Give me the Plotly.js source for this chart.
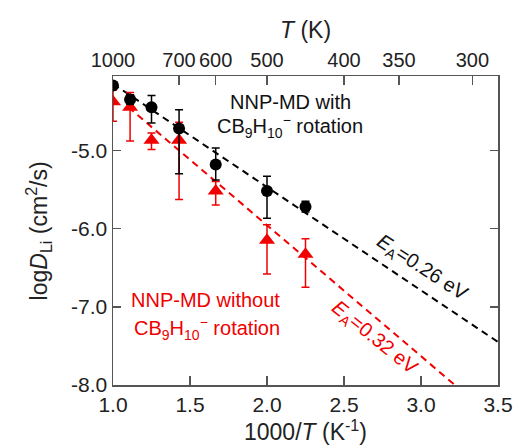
<!DOCTYPE html>
<html><head><meta charset="utf-8">
<script src="https://cdn.plot.ly/plotly-3.0.1.min.js"></script>
<style>body{margin:0;background:#fff}#chart{width:518px;height:446px}</style>
</head><body><div id="chart"></div>
<script>
// 1000/T (K^-1)
const xInv = [1.0, 1.111, 1.25, 1.429, 1.667, 2.0, 2.25];
// with CB9H10- rotation (black)
const yWith = [-4.17, -4.35, -4.45, -4.72, -5.18, -5.52, -5.72];
const errWithPlus = [0.04, 0.06, 0.15, 0.24, 0.21, 0.19, 0.07];
const errWithMinus = [0.04, 0.06, 0.20, 0.58, 0.20, 0.35, 0.07];
// without rotation (red)
const yWithout = [-4.38, -4.45, -4.87, -4.87, -5.52, -6.15, -6.33];
const errWithoutPlus = [0.15, 0.19, 0.09, 0.23, 0.12, 0.20, 0.20];
const errWithoutMinus = [0.25, 0.43, 0.12, 0.76, 0.18, 0.43, 0.42];
// Arrhenius fit lines
const fitWithX = [1.0, 3.5];
const fitWithY = [-4.15, -7.45];
const fitWithoutX = [1.1, 3.22];
const fitWithoutY = [-4.45, -8.0];
// top axis temperatures (K)
const topT = [1000, 700, 600, 500, 400, 350, 300];
const yTicks = [-8.0, -7.0, -6.0, -5.0];
const xTicks = [1.0, 1.5, 2.0, 2.5, 3.0, 3.5];

const RED = '#f00000';
const FONT = 'Liberation Sans, Arial, sans-serif';
const AX = '#555';

const traces = [
  {x: fitWithX, y: fitWithY, mode: 'lines', line: {color: '#000', width: 2, dash: '7px,5px'}, hoverinfo: 'skip'},
  {x: fitWithoutX, y: fitWithoutY, mode: 'lines', line: {color: RED, width: 2, dash: '7px,5px'}, hoverinfo: 'skip'},
  {x: xInv, y: yWithout, mode: 'markers', marker: {symbol: 'triangle-up', size: 14, color: RED},
   error_y: {type: 'data', symmetric: false, array: errWithoutPlus, arrayminus: errWithoutMinus, color: RED, thickness: 1.5, width: 4}},
  {x: xInv, y: yWith, mode: 'markers', marker: {symbol: 'circle', size: 12, color: '#000'},
   error_y: {type: 'data', symmetric: false, array: errWithPlus, arrayminus: errWithMinus, color: '#000', thickness: 1.5, width: 4}},
  {x: [1.0, 3.5], y: [-8, -8], xaxis: 'x2', mode: 'markers', marker: {opacity: 0}, hoverinfo: 'skip'}
];

const layout = {
  width: 518, height: 446,
  margin: {l: 113, r: 20, t: 76, b: 61},
  showlegend: false,
  paper_bgcolor: '#fff', plot_bgcolor: '#fff',
  font: {family: FONT, size: 21, color: '#222'},
  xaxis: {
    range: [1.0, 3.5], tickvals: xTicks, ticktext: xTicks.map(v => v.toFixed(1)),
    ticks: 'inside', ticklen: 9, tickcolor: AX, tickwidth: 1.5, tickangle: 0,
    showline: true, linecolor: AX, linewidth: 1.5, showgrid: false, zeroline: false,
    tickfont: {size: 21, color: '#222'},
    title: {text: '1000/<i>T</i> (K<sup>-1</sup>)', font: {size: 23, color: '#222'}, standoff: 0}
  },
  xaxis2: {
    overlaying: 'x', side: 'top', range: [1.0, 3.5],
    tickvals: topT.map(t => 1000 / t), ticktext: topT.map(String),
    ticks: 'inside', ticklen: 9, tickcolor: AX, tickwidth: 1.5, tickangle: 0,
    showline: true, linecolor: AX, linewidth: 1.5, showgrid: false, zeroline: false,
    tickfont: {size: 20, color: '#222'},
    title: {text: '<i>T</i> (K)', font: {size: 23, color: '#222'}, standoff: 3}
  },
  yaxis: {
    range: [-8.0, -4.05], tickvals: yTicks, ticktext: yTicks.map(v => v.toFixed(1)),
    ticks: 'inside', ticklen: 8, tickcolor: AX, tickwidth: 1.5, mirror: 'ticks',
    showline: true, linecolor: AX, linewidth: 1.5, showgrid: false, zeroline: false,
    tickfont: {size: 21, color: '#222'}
  },
  annotations: [
    {x: -0.195, y: 0.5, xref: 'paper', yref: 'paper', xanchor: 'center', yanchor: 'middle', textangle: -90,
     text: 'log<i>D</i><sub>Li</sub> (cm<sup>2</sup>/s)', showarrow: false, font: {size: 23, color: '#222'}},
    {x: 2.154, y: -4.38, xref: 'x', yref: 'y', text: 'NNP-MD with', showarrow: false, font: {size: 20, color: '#111'}},
    {x: 2.147, y: -4.70, xref: 'x', yref: 'y', text: 'CB<sub>9</sub>H<sub>10</sub><sup>−</sup> rotation', showarrow: false, font: {size: 20, color: '#111'}},
    {x: 1.603, y: -6.91, xref: 'x', yref: 'y', text: 'NNP-MD without', showarrow: false, font: {size: 20, color: RED}},
    {x: 1.609, y: -7.28, xref: 'x', yref: 'y', text: 'CB<sub>9</sub>H<sub>10</sub><sup>−</sup> rotation', showarrow: false, font: {size: 20, color: RED}},
    {x: 3.009, y: -6.51, xref: 'x', yref: 'y', text: '<i>E</i><sub>A</sub>=0.26 eV', textangle: 33, showarrow: false, font: {size: 20, color: '#111'}},
    {x: 2.698, y: -7.41, xref: 'x', yref: 'y', text: '<i>E</i><sub>A</sub>=0.32 eV', textangle: 39, showarrow: false, font: {size: 20, color: RED}}
  ]
};
Plotly.newPlot('chart', traces, layout, {displayModeBar: false, staticPlot: true});
</script></body></html>
